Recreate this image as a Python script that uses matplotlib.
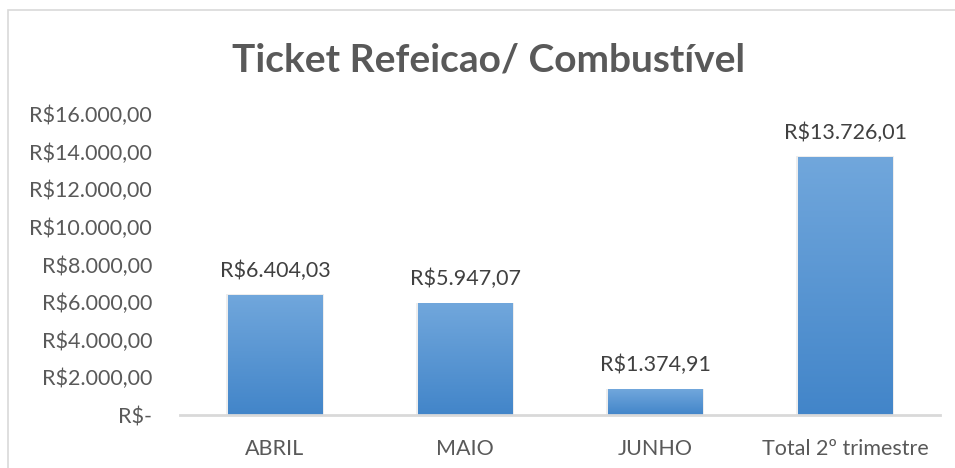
import matplotlib
matplotlib.use("Agg")
import matplotlib.pyplot as plt
import numpy as np
from matplotlib.colors import LinearSegmentedColormap
from matplotlib.patches import Rectangle

categories = ["ABRIL", "MAIO", "JUNHO", "Total 2º trimestre"]
values = [6404.03, 5947.07, 1374.91, 13726.01]
value_labels = ["R$6.404,03", "R$5.947,07", "R$1.374,91", "R$13.726,01"]
yticks = [0, 2000, 4000, 6000, 8000, 10000, 12000, 14000, 16000]
ytick_labels = ["R$-", "R$2.000,00", "R$4.000,00", "R$6.000,00", "R$8.000,00",
                "R$10.000,00", "R$12.000,00", "R$14.000,00", "R$16.000,00"]
title = "Ticket Refeicao/ Combustível"

plt.rcParams["font.family"] = ["Lato", "DejaVu Sans"]
TEXT = "#595959"
FS = 15.5

fig = plt.figure(figsize=(9.55, 4.68), dpi=100)
ax = fig.add_axes([180 / 955, 53 / 468, 760 / 955, 301 / 468])

# chart border (Excel chart area)
fig.patches.append(Rectangle((8 / 955, -0.1), 1.2, (458 / 468) + 0.1,
                             transform=fig.transFigure, fill=False,
                             edgecolor="#d9d9d9", linewidth=1.2))

x = np.arange(len(categories))
bars = ax.bar(x, values, width=0.5, color="none", edgecolor="none", zorder=2)

cmap = LinearSegmentedColormap.from_list("bar", ["#4285c9", "#71a7dc"])
grad = np.linspace(0, 1, 256).reshape(-1, 1)
for b in bars:
    x0, w, h = b.get_x(), b.get_width(), b.get_height()
    # soft shadow
    ax.add_patch(Rectangle((x0 - 0.006, 0), w + 0.012, h + 25,
                           facecolor="#000000", alpha=0.07, edgecolor="none", zorder=1))
    im = ax.imshow(grad, cmap=cmap, origin="lower", aspect="auto",
                   extent=(x0, x0 + w, 0, h), zorder=2)
    im.set_clip_path(b)

for xi, v, lab in zip(x, values, value_labels):
    ax.annotate(lab, (xi, v), xytext=(0, 10), textcoords="offset points",
                ha="center", va="bottom", fontsize=FS, color="#404040")

ax.set_xlim(-0.5, 3.5)
ax.set_ylim(0, 16000)
ax.set_xticks(x)
ax.set_xticklabels(categories, fontsize=FS, color=TEXT)
ax.set_yticks(yticks)
ax.set_yticklabels(ytick_labels, fontsize=FS, color=TEXT)
ax.tick_params(axis="both", length=0)
ax.tick_params(axis="x", pad=17)
ax.tick_params(axis="y", pad=20)
for s in ["top", "right", "left"]:
    ax.spines[s].set_visible(False)
ax.spines["bottom"].set_color("#d9d9d9")
ax.spines["bottom"].set_linewidth(2)
ax.spines["bottom"].set_zorder(3)

fig.text(488 / 955, 1 - 60 / 468, title, ha="center", va="center",
         fontsize=28, fontweight="bold", color=TEXT)

fig.savefig("out.png", dpi=100)
